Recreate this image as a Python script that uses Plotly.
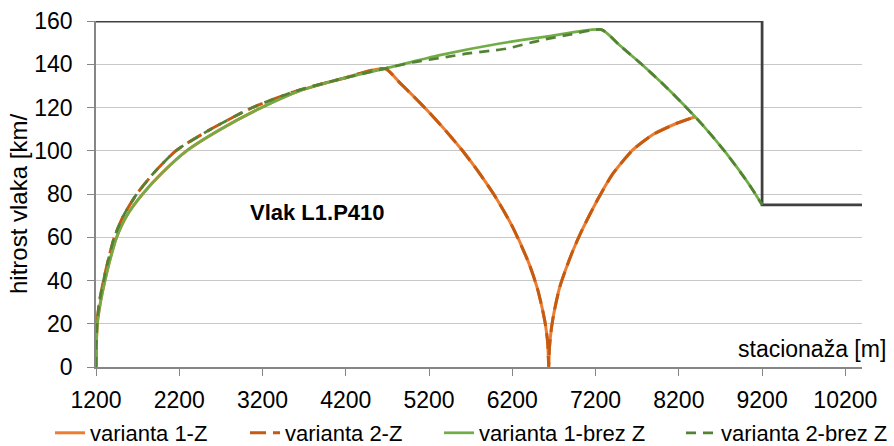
import plotly.graph_objects as go

# ---- data ----
# speed limit
lim_x = [1200, 9200, 9200, 10400]
lim_v = [160, 160, 75, 75]

# variant 1 acceleration (solid curves)
acc1_x = [1200, 1204, 1216, 1254, 1308, 1371, 1448, 1570, 1760, 2000, 2290, 2700, 3190, 3650, 4150, 4670,
          5330, 6050, 6650, 7270]
acc1_v = [0, 10, 20, 30, 40, 50, 60, 70, 80, 90, 100, 110, 120, 127.8, 133.3, 138.0,
          144.2, 149.6, 153.0, 156]

# variant 2 acceleration (dashed curves)
acc2_x = [1200, 1203, 1212, 1240, 1290, 1350, 1420, 1530, 1690, 1900, 2160, 2580, 3080, 3600, 4150, 4670,
          5000, 5400, 5670, 5930, 6130, 6530, 6900, 7270]
acc2_v = [0, 10, 20, 30, 40, 50, 60, 70, 80, 90, 100, 110, 120, 127.6, 133.3, 138.0,
          140.8, 143.3, 145, 146.2, 147.2, 151, 153.8, 156]

# braking to the stop (orange curves)
brk_x = [4670, 4850, 5000, 5200, 5400, 5600, 5800, 6000, 6200, 6400, 6500, 6560, 6600, 6625, 6638]
brk_v = [138.0, 131.4, 125.7, 117.8, 109.3, 100.1, 89.9, 78.5, 65.0, 47.9, 36.5, 27.0, 19.1, 11.2, 0]

# re-acceleration after the stop (orange curves)
re_x = [6638, 6645, 6670, 6705, 6770, 6850, 6930, 7040, 7230, 7410, 7650, 7890, 8170, 8390]
re_v = [0, 8.4, 18, 26, 37, 46, 54, 63.5, 77.8, 89.5, 100.5, 107.5, 112.6, 115.6]

# braking to the 75 km/h limit (green curves)
end_x = [7270, 7500, 7750, 8000, 8250, 8500, 8750, 9000, 9100, 9200]
end_v = [155.7, 148.4, 140.1, 131.2, 121.6, 111.3, 99.8, 86.9, 81.2, 75]

names = ["varianta 1-Z", "varianta 2-Z", "varianta 1-brez Z", "varianta 2-brez Z"]
colors = ["#ED7D31", "#C55A11", "#70AD47", "#548235"]


def upto(xs, vs, xmax):
    px = [x for x in xs if x <= xmax]
    return px, vs[:len(px)]


a1x, a1v = upto(acc1_x, acc1_v, 4670)
a2x, a2v = upto(acc2_x, acc2_v, 4670)
s1x = a1x + brk_x[1:] + re_x[1:]
s1v = a1v + brk_v[1:] + re_v[1:]
s2x = a2x + brk_x[1:] + re_x[1:]
s2v = a2v + brk_v[1:] + re_v[1:]
s3x = acc1_x + end_x[1:]
s3v = acc1_v + end_v[1:]
s4x = acc2_x + end_x[1:]
s4v = acc2_v + end_v[1:]

FONT = "Liberation Sans, Arial, sans-serif"

fig = go.Figure()
fig.add_trace(go.Scatter(x=lim_x, y=lim_v, mode="lines", showlegend=False,
                         line=dict(color="#404040", width=2.75), hoverinfo="skip"))
series = [(s1x, s1v, "solid", 3.0), (s2x, s2v, "16px,7px", 3.0),
          (s3x, s3v, "solid", 2.75), (s4x, s4v, "10px,7px", 2.75)]
for i, (xs, vs, dash, w) in enumerate(series):
    lg = "legend" if i == 0 else f"legend{i+1}"
    fig.add_trace(go.Scatter(x=xs, y=vs, mode="lines", name=names[i], legend=lg,
                             line=dict(color=colors[i], width=w, dash=dash, shape="spline", smoothing=0.6)))

L, R, T, B = 96, 32, 21, 79
W, H = 894, 446
pw, ph = W - L - R, H - T - B

leg_px = [50, 245, 439, 681]
layout_leg = {}
for i, p in enumerate(leg_px):
    key = "legend" if i == 0 else f"legend{i+1}"
    layout_leg[key] = dict(orientation="h", x=(p - L) / pw, xanchor="left",
                           y=(T + ph - 433) / ph, yanchor="middle",
                           font=dict(family=FONT, size=22, color="#000000"),
                           bgcolor="rgba(0,0,0,0)", borderwidth=0)

fig.update_layout(
    width=W, height=H, margin=dict(l=L, r=R, t=T, b=B, autoexpand=False),
    paper_bgcolor="white", plot_bgcolor="white",
    font=dict(family=FONT, size=22, color="#000000"),
    **layout_leg,
    xaxis=dict(range=[1200, 10400], tickmode="array",
               tickvals=[1200, 2200, 3200, 4200, 5200, 6200, 7200, 8200, 9200, 10200],
               ticktext=["1200", "2200", "3200", "4200", "5200", "6200", "7200", "8200", "9200", "10200"],
               showgrid=False, zeroline=False, showline=True, linecolor="#868686", linewidth=1.5,
               ticks="outside", ticklen=7, tickcolor="#868686", tickwidth=1.2,
               tickfont=dict(family=FONT, size=23, color="#000000"), ticklabelstandoff=5),
    yaxis=dict(range=[0, 160], tickmode="array",
               tickvals=[0, 20, 40, 60, 80, 100, 120, 140, 160],
               ticktext=["0", "20", "40", "60", "80", "100", "120", "140", "160"],
               showgrid=True, gridcolor="#C8C8C8", gridwidth=1.4, zeroline=False,
               showline=True, linecolor="#868686", linewidth=1.5,
               ticks="outside", ticklen=7, tickcolor="#868686", tickwidth=1.2,
               tickfont=dict(family=FONT, size=23, color="#000000"), ticklabelstandoff=10),
    annotations=[
        dict(text="Vlak L1.P410", x=3020, y=71.5, xref="x", yref="y", xanchor="left", yanchor="middle",
             showarrow=False, font=dict(family=FONT, size=22, color="#000000", weight="bold")),
        dict(text="stacionaža [m]", x=(888 - L) / pw, y=(T + ph - 349) / ph, xref="paper", yref="paper",
             xanchor="right", yanchor="middle", showarrow=False,
             font=dict(family=FONT, size=23, color="#000000")),
        dict(text="hitrost vlaka [km/", x=(18 - L) / pw, y=(T + ph - 204) / ph, xref="paper", yref="paper",
             xanchor="center", yanchor="middle", textangle=-90, showarrow=False,
             font=dict(family=FONT, size=24, color="#000000")),
    ],
)

fig.write_html("out.html")
